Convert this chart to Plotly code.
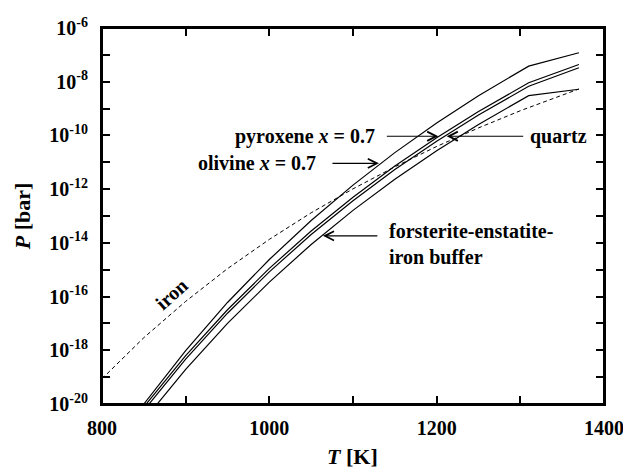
import plotly.graph_objects as go

# ---- data (log10 of pressure in bar) ----
T_olivine = [840, 850, 900, 950, 1000, 1050, 1100, 1150, 1200, 1250, 1310, 1370]
logP_olivine = [-20.43, -20.00, -18.01, -16.22, -14.62, -13.17, -11.85, -10.64, -9.54, -8.52, -7.42, -6.92]

T_pyroxene = [845, 850, 900, 950, 1000, 1050, 1100, 1150, 1200, 1250, 1310, 1370]
logP_pyroxene = [-20.31, -20.11, -18.20, -16.49, -14.95, -13.56, -12.30, -11.14, -10.09, -9.11, -8.04, -7.36]

T_quartz = [845, 850, 900, 950, 1000, 1050, 1100, 1150, 1200, 1250, 1310, 1370]
logP_quartz = [-20.44, -20.24, -18.33, -16.62, -15.08, -13.69, -12.43, -11.27, -10.22, -9.24, -8.17, -7.48]

T_buffer = [860, 900, 950, 1000, 1050, 1100, 1150, 1200, 1250, 1310, 1370]
logP_buffer = [-20.23, -18.71, -17.00, -15.46, -14.06, -12.79, -11.63, -10.57, -9.59, -8.52, -8.28]

T_iron = [800, 850, 900, 950, 1000, 1050, 1100, 1150, 1200, 1250, 1300, 1370]
logP_iron = [-19.06, -17.53, -16.18, -14.96, -13.87, -12.88, -11.99, -11.17, -10.41, -9.72, -9.08, -8.27]

x_ticks = [800, 900, 1000, 1100, 1200, 1300, 1400]
x_ticklabels = ["800", "", "1000", "", "1200", "", "1400"]
y_exponents = list(range(-20, -5))
y_ticklabels = [f"10<sup>{e}</sup>" if e % 2 == 0 else "" for e in y_exponents]

FONT = "Liberation Serif"

fig = go.Figure()

def add_curve(T, lp, dash=None, width=1.2):
    fig.add_trace(go.Scatter(
        x=T, y=[10 ** v for v in lp], mode="lines",
        line=dict(color="black", width=width, dash=dash),
        showlegend=False, hoverinfo="skip"))

add_curve(T_olivine, logP_olivine)
add_curve(T_pyroxene, logP_pyroxene)
add_curve(T_quartz, logP_quartz)
add_curve(T_buffer, logP_buffer)
add_curve(T_iron, logP_iron, dash="4px,3px", width=1.0)

axis_common = dict(
    showline=True, linewidth=2, linecolor="black", mirror="ticks",
    ticks="inside", ticklen=8, tickwidth=1.5, tickcolor="black",
    showgrid=False, zeroline=False, ticklabeloverflow="allow",
    tickfont=dict(family=FONT, size=20, color="black", weight="bold"),
)

fig.update_xaxes(range=[800, 1400], tickmode="array", tickvals=x_ticks,
                 ticktext=x_ticklabels, ticklabelstandoff=5, **axis_common)
fig.update_yaxes(type="log", range=[-20.0001, -5.9999], tickmode="array",
                 tickvals=[10.0 ** e for e in y_exponents], ticktext=y_ticklabels,
                 ticklabelstandoff=8, **axis_common)

lab_font = dict(family=FONT, size=20, color="black", weight="bold")
ann = []
# axis titles
ann.append(dict(text="<i>T</i> [K]", xref="paper", yref="paper", x=0.4990, y=-0.139,
                xanchor="center", yanchor="middle", showarrow=False,
                font=dict(family=FONT, size=22, color="black", weight="bold")))
ann.append(dict(text="<i>P</i> [bar]", xref="paper", yref="paper", x=-0.159, y=0.5,
                xanchor="center", yanchor="middle", showarrow=False, textangle=-90,
                font=dict(family=FONT, size=22, color="black", weight="bold")))
# labels
ann.append(dict(text="pyroxene <i>x</i> = 0.7", xref="paper", yref="paper", x=0.548, y=0.712,
                xanchor="right", yanchor="middle", showarrow=False, font=lab_font))
ann.append(dict(text="olivine <i>x</i> = 0.7", xref="paper", yref="paper", x=0.430, y=0.640,
                xanchor="right", yanchor="middle", showarrow=False, font=lab_font))
ann.append(dict(text="quartz", xref="paper", yref="paper", x=0.849, y=0.712,
                xanchor="left", yanchor="middle", showarrow=False, font=lab_font))
ann.append(dict(text="forsterite-enstatite-<br>iron buffer", xref="paper", yref="paper",
                x=0.567, y=0.4254, xanchor="left", yanchor="middle", align="left",
                showarrow=False, font=lab_font))
ann.append(dict(text="iron", xref="paper", yref="paper", x=0.1385, y=0.292,
                xanchor="center", yanchor="middle", showarrow=False, textangle=-42,
                font=lab_font))
# arrows
arrow_style = dict(xref="x", yref="y", text="", showarrow=True, arrowhead=5,
                   arrowsize=1.5, arrowwidth=1.2, arrowcolor="black", standoff=0,
                   startstandoff=0, ay=0)
ann.append(dict(x=1202, y=-10.03, ax=-53, **arrow_style))
ann.append(dict(x=1131, y=-11.04, ax=-48, **arrow_style))
ann.append(dict(x=1212, y=-10.03, ax=78, **arrow_style))
ann.append(dict(x=1064, y=-13.74, ax=56, **arrow_style))

# the page body adds an 8px offset; size/margins compensate for it
fig.update_layout(
    width=623, height=464,
    margin=dict(l=94, r=20, t=7, b=68),
    paper_bgcolor="white", plot_bgcolor="white",
    annotations=ann,
    xaxis2=dict(overlaying="x", side="top", matches="x", range=[800, 1400],
                tickmode="array", tickvals=x_ticks, showticklabels=False,
                ticks="inside", ticklen=8, tickwidth=1.5, tickcolor="black",
                showline=True, linewidth=2, linecolor="black",
                showgrid=False, zeroline=False),
    shapes=[dict(type="rect", xref="paper", yref="paper", x0=0, x1=1, y0=0, y1=1,
                 line=dict(color="black", width=2), layer="above")],
    font=dict(family=FONT, color="black"),
)
# invisible anchor trace so the top axis is drawn
fig.add_trace(go.Scatter(x=[T_iron[0]], y=[10 ** logP_iron[0]], xaxis="x2",
                         mode="markers", marker=dict(opacity=0),
                         showlegend=False, hoverinfo="skip"))

fig.write_html("out.html")
